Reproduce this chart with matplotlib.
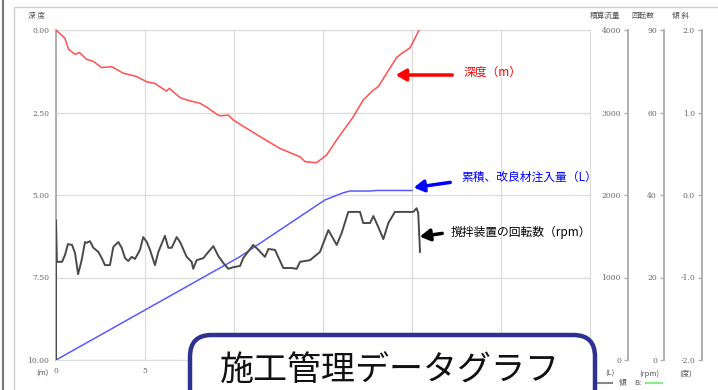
import numpy as np
import matplotlib
matplotlib.use('Agg')
import matplotlib.pyplot as plt
from matplotlib.patches import FancyBboxPatch, Rectangle
from matplotlib.lines import Line2D

plt.rcParams['font.family'] = ['Noto Sans CJK JP', 'DejaVu Sans']

# depth (m) vs elapsed time
depth_t = [0, 0.5, 0.7, 1.07, 1.31, 1.72, 2.1, 2.57, 3.13, 3.78, 4.53, 5.1, 5.56, 6.2, 6.37,
           6.97, 7.34, 8.09, 8.47, 9.03, 9.2, 9.68, 9.96, 11.46, 12.58, 13.7, 13.99, 14.64,
           15.2, 15.77, 16.7, 17.26, 17.83, 18.1, 18.58, 19.14, 19.42, 19.89, 20.4]
depth = [0, 0.25, 0.58, 0.74, 0.68, 0.89, 0.95, 1.14, 1.11, 1.31, 1.41, 1.57, 1.62, 1.85, 1.77,
         2.05, 2.12, 2.22, 2.34, 2.55, 2.6, 2.58, 2.73, 3.23, 3.59, 3.84, 3.99, 4.02,
         3.79, 3.33, 2.63, 2.12, 1.82, 1.72, 1.31, 0.83, 0.71, 0.54, 0.0]

# cumulative injection (L)
flow_t = [0, 5.0, 10.3, 15.1, 16.1, 16.5, 17.6, 18.0, 20.0]
flow = [0, 606, 1248, 1939, 2024, 2048, 2048, 2055, 2055]

# rotation speed (rpm)
rpm_t = [0, 0, 0.05, 0.34, 0.51, 0.67, 0.9, 1.07, 1.24, 1.44, 1.63, 1.72, 1.91, 2.1, 2.38, 2.57,
         2.75, 3.03, 3.22, 3.5, 3.69, 3.88, 4.06, 4.25, 4.44, 4.72, 4.9, 5.1, 5.28, 5.56,
         5.75, 6.12, 6.31, 6.5, 6.78, 6.97, 7.34, 7.62, 7.71, 7.9, 8.28, 8.56, 8.84, 9.12,
         9.4, 9.68, 9.96, 10.34, 10.52, 11.08, 11.37, 11.74, 11.93, 12.3, 12.77, 13.24,
         13.52, 13.71, 14.27, 14.83, 15.3, 15.77, 16.05, 16.42, 17.08, 17.26, 17.64, 17.83,
         18.11, 18.39, 18.67, 19.04, 20.07, 20.26, 20.35, 20.45]
rpm = [0, 33.9, 23.8, 23.8, 25.5, 28.1, 27.9, 25.9, 20.8, 24.2, 28.6, 28.4, 28.8, 27.2, 26.2, 24.7,
       23.0, 23.0, 27.4, 28.6, 27.2, 24.7, 24.0, 25.0, 24.5, 26.7, 29.8, 28.6, 26.7, 23.0,
       26.2, 30.1, 27.2, 27.2, 29.8, 28.6, 25.0, 23.8, 22.1, 24.2, 24.7, 26.2, 27.6, 25.2,
       23.5, 22.1, 22.5, 22.8, 24.7, 27.9, 26.7, 25.0, 26.9, 26.7, 22.3, 22.3,
       22.1, 23.8, 24.2, 26.2, 31.5, 27.9, 30.8, 35.9, 35.9, 33.2, 33.2, 34.9,
       32.2, 29.3, 33.2, 35.9, 35.9, 36.8, 35.6, 26.2]

depth_ticks = [0, 2.5, 5, 7.5, 10]
depth_labels = ['0.00', '2.50', '5.00', '7.50', '10.00']
time_ticks = [0, 5, 10, 15, 20, 25, 30]
time_labels = ['0', '5', '', '', '', '', '']  # the rest sit behind the title box
flow_ticks = [0, 1000, 2000, 3000, 4000]
rpm_ticks = [0, 20, 40, 60, 90]
slope_ticks = [-2, -1, 0, 1, 2]
slope_labels = ['-2.0', '-1.0', '0.0', '1.0', '2.0']

W, H = 718, 390
fig = plt.figure(figsize=(W / 100, H / 100), dpi=100)

num_font = dict(family='DejaVu Serif', size=5.5, color='#666666')
axis_col = '#b0b0b0'

ax = fig.add_axes([56 / W, 30 / H, 534 / W, 330 / H])
ax.plot(depth_t, depth, color='#ff5050', linewidth=1.1, zorder=3)
ax.set_xlim(0, 30)
ax.set_ylim(10, 0)
ax.set_yticks(depth_ticks, depth_labels, **num_font)
ax.set_xticks(time_ticks, time_labels, **num_font)
ax.tick_params(length=0, pad=5)
ax.grid(True, color='#dcdcdc', linewidth=0.9)
for s in ['top', 'bottom', 'right']:
    ax.spines[s].set_color('#dcdcdc')
ax.spines['left'].set_color(axis_col)
ax.spines['left'].set_linewidth(1.4)

# cumulative flow axis
ax_l = ax.twinx()
ax_l.plot(flow_t, flow, color='#5a5aff', linewidth=1.1, zorder=3)
ax_l.set_ylim(0, 4000)

# rpm axis (non-uniform scale as in the original)
rpm_pos = [0, 1, 2, 3, 4]
ax_r = ax.twinx()
ax_r.set_yscale('function', functions=(lambda v: np.interp(v, rpm_ticks, rpm_pos),
                                       lambda v: np.interp(v, rpm_pos, rpm_ticks)))
ax_r.set_ylim(0, 90)
ax_r.plot(rpm_t, rpm, color='#4a4a4a', linewidth=1.4, zorder=3)

# slope axis
ax_s = ax.twinx()
ax_s.set_ylim(-2, 2)

for a, pos, ticks, labels in [(ax_l, 628, flow_ticks, [str(v) for v in flow_ticks]),
                              (ax_r, 664, rpm_ticks, [str(v) for v in rpm_ticks]),
                              (ax_s, 702, slope_ticks, slope_labels)]:
    a.yaxis.set_ticks_position('left')
    a.yaxis.set_label_position('left')
    for s in ['top', 'bottom', 'right']:
        a.spines[s].set_visible(False)
    a.spines['left'].set_visible(True)
    a.spines['left'].set_position(('axes', (pos - 56) / 534))
    a.spines['left'].set_color(axis_col)
    a.spines['left'].set_linewidth(1.4)
    a.set_yticks(ticks, labels, **num_font)
    a.minorticks_off()
    a.tick_params(axis='y', length=3, width=1, color=axis_col, pad=2)

# header / unit labels
hdr = dict(fontsize=5.5, color='#555555')
fig.text(36 / W, 1 - 16 / H, '深 度', ha='center', va='center', **hdr)
fig.text(42 / W, 1 - 374 / H, '(m)', ha='center', va='center', **hdr)
fig.text(605 / W, 1 - 16 / H, '積算流量', ha='center', va='center', **hdr)
fig.text(643 / W, 1 - 16 / H, '回転数', ha='center', va='center', **hdr)
fig.text(680 / W, 1 - 16 / H, '傾 斜', ha='center', va='center', **hdr)
fig.text(610 / W, 1 - 374 / H, '(L)', ha='center', va='center', **hdr)
fig.text(649 / W, 1 - 374 / H, '(rpm)', ha='center', va='center', **hdr)
fig.text(686 / W, 1 - 374 / H, '(度)', ha='center', va='center', **hdr)
fig.add_artist(Line2D([596 / W, 612 / W], [1 - 383 / H] * 2, color='#888888', lw=1.5))
fig.text(623 / W, 1 - 383 / H, '傾', ha='center', va='center', **hdr)
fig.text(638 / W, 1 - 383 / H, 'B:', ha='center', va='center', **hdr)
fig.add_artist(Line2D([646 / W, 662 / W], [1 - 383 / H] * 2, color='#88ee88', lw=1.5))

# annotations
def label(text, tx, ty, ax0, ay0, ax1, ay1, color):
    fig.text(tx / W, 1 - ty / H, text, color=color, fontsize=8.5, ha='left', va='center')
    fig.add_artist(matplotlib.patches.FancyArrowPatch(
        (ax0 / W, 1 - ay0 / H), (ax1 / W, 1 - ay1 / H), transform=fig.transFigure,
        arrowstyle='-|>,head_length=6,head_width=3.5', color=color, lw=2.5, mutation_scale=1))

label('深度（m）', 463, 72, 455, 75, 393, 75, '#ff0000')
label('累積、改良材注入量（L）', 461, 177, 453, 182, 411, 188, '#0000ff')
label('撹拌装置の回転数（rpm）', 451, 232, 445, 233, 417, 237, '#000000')

# frame
fig.add_artist(Line2D([3 / W, 3 / W], [0, 1], color='#777777', lw=1.5))
fig.add_artist(Rectangle((14 / W, -0.05), 1.0, 1 - 7 / H + 0.05, transform=fig.transFigure,
                         fill=False, edgecolor='#cfcfcf', lw=1))

# title box
box = FancyBboxPatch((190 / W, -20 / H), 405 / W, (390 - 335 + 20) / H,
                     boxstyle='round,pad=0,rounding_size=0.03', transform=fig.transFigure,
                     facecolor='white', edgecolor='#2e3192', lw=3.2, zorder=10,
                     mutation_aspect=W / H)
fig.add_artist(box)
fig.text(390 / W, 1 - 371 / H, '施工管理データグラフ', fontsize=24.5, color='#111111',
         ha='center', va='center', zorder=11)

fig.savefig('out.png', dpi=100)
